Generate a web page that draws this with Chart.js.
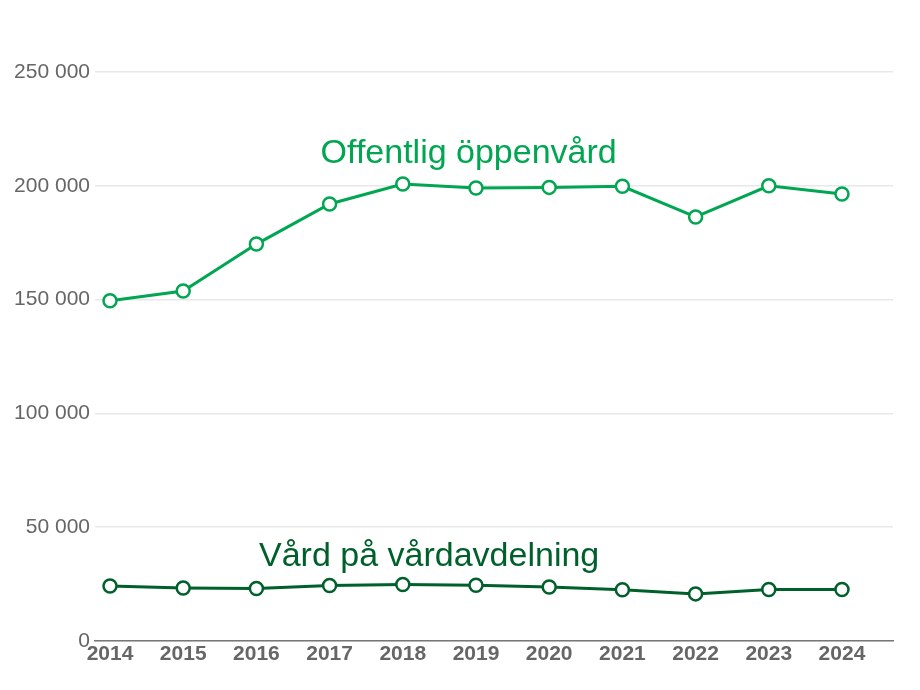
<!DOCTYPE html>
<html>
<head>
<meta charset="utf-8">
<script src="https://cdn.jsdelivr.net/npm/chart.js@4"></script>
<style>
html,body{margin:0;padding:0;background:#fff;}
#wrap{width:920px;height:690px;position:relative;}
</style>
</head>
<body>
<div id="wrap"><canvas id="c"></canvas></div>
<script>
const years = [2014, 2015, 2016, 2017, 2018, 2019, 2020, 2021, 2022, 2023, 2024];
const offentligOppenvard = [149500, 153800, 174400, 192000, 200800, 199000, 199300, 199800, 186300, 200000, 196400];
const vardPaVardavdelning = [24200, 23300, 23100, 24400, 24800, 24500, 23700, 22500, 20700, 22600, 22600];
const yTicks = [0, 50000, 100000, 150000, 200000, 250000];
const seriesNames = ['Offentlig öppenvård', 'Vård på vårdavdelning'];
const labelAnchorYear = [2018.9, 2018.36];
const labelAnchorValue = [214000, 36900];

const colors = ['#00a651', '#00602b'];

const toPoints = arr => years.map((y, i) => ({x: y, y: arr[i]}));

const seriesLabels = {
  id: 'seriesLabels',
  afterDatasetsDraw(chart) {
    const ctx = chart.ctx, xs = chart.scales.x, ys = chart.scales.y;
    ctx.save();
    ctx.font = '34px "Liberation Sans", Arial, sans-serif';
    ctx.textAlign = 'center';
    ctx.textBaseline = 'middle';
    seriesNames.forEach((n, i) => {
      ctx.fillStyle = colors[i];
      ctx.fillText(n, xs.getPixelForValue(labelAnchorYear[i]), ys.getPixelForValue(labelAnchorValue[i]));
    });
    ctx.restore();
  }
};

const nf = v => String(v).replace(/\B(?=(\d{3})+(?!\d))/g, ' ');

new Chart(document.getElementById('c'), {
  type: 'line',
  data: {
    datasets: [
      {label: seriesNames[0], data: toPoints(offentligOppenvard), borderColor: colors[0], backgroundColor: '#fff',
       borderWidth: 3, pointRadius: 6.5, pointBorderWidth: 2.5, pointBackgroundColor: '#fff', pointBorderColor: colors[0], tension: 0},
      {label: seriesNames[1], data: toPoints(vardPaVardavdelning), borderColor: colors[1], backgroundColor: '#fff',
       borderWidth: 3, pointRadius: 6.5, pointBorderWidth: 2.5, pointBackgroundColor: '#fff', pointBorderColor: colors[1], tension: 0}
    ]
  },
  options: {
    responsive: true,
    maintainAspectRatio: false,
    animation: false,
    layout: {padding: {top: 72, right: 27, bottom: 0, left: 0}},
    plugins: {legend: {display: false}, tooltip: {enabled: false}},
    scales: {
      x: {
        type: 'linear',
        min: 2013.795,
        max: 2024.697,
        afterBuildTicks: s => { s.ticks = years.map(v => ({value: v})); },
        afterFit: s => { s.height = 49; },
        grid: {display: false, drawTicks: false},
        border: {display: true, color: '#777', width: 1.5},
        ticks: {
          padding: 1,
          autoSkip: false,
          maxRotation: 0,
          color: '#666',
          font: {family: '"Liberation Sans", Arial, sans-serif', size: 21, weight: 'bold'},
          callback: v => String(v)
        }
      },
      y: {
        min: 0,
        max: 250000,
        afterBuildTicks: s => { s.ticks = yTicks.map(v => ({value: v})); },
        afterFit: s => { s.width = 95; },
        grid: {color: '#e8e8e8', lineWidth: 1.5, drawTicks: false},
        border: {display: false},
        ticks: {
          padding: 5,
          color: '#666',
          font: {family: '"Liberation Sans", Arial, sans-serif', size: 21},
          callback: v => nf(v)
        }
      }
    }
  },
  plugins: [seriesLabels]
});
</script>
</body>
</html>
